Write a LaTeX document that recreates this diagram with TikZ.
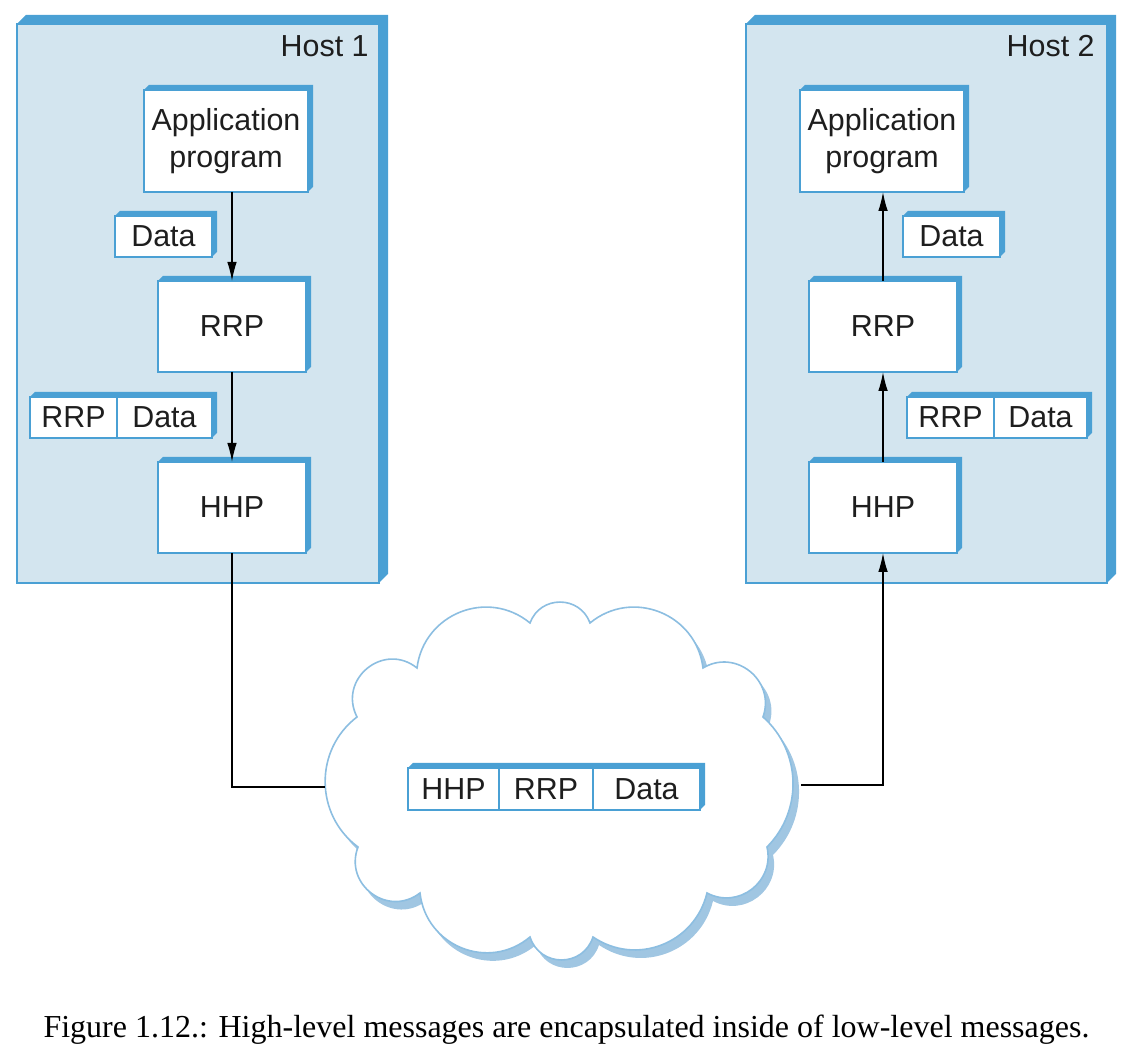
\documentclass[tikz,border=0pt]{standalone}
\usepackage{fontspec}
\setmainfont{Liberation Serif}
\setsansfont{Liberation Sans}
\usetikzlibrary{positioning, arrows.meta}

\definecolor{hostedge}{RGB}{74,160,212}
\definecolor{hostfill}{RGB}{211,229,239}
\definecolor{cloudedge}{RGB}{140,190,225}
\definecolor{cloudshade}{RGB}{160,198,226}
\definecolor{inkdark}{RGB}{30,30,30}

% 3d edge on top and right, from node #2 to node #3
\newcommand{\bevel}[3][5]{\fill[hostedge] (#2.north west) -- ++(#1,#1)
  -- ([shift={(#1,#1)}]#3.north east) -- ([shift={(#1,#1)}]#3.south east)
  -- (#3.south east) -- (#3.north east) -- cycle;}

\newcommand{\netcloud}{(530,435) to[out=70,in=110,looseness=1.27] (590,435)
  to[out=39.5,in=97,looseness=1.15] (703,390)
  to[out=31,in=70.6,looseness=1.27] (763,341)
  to[out=-41.6,in=45.2,looseness=1.01] (767,211)
  to[out=-77,in=-28,looseness=1.2] (707,165)
  to[out=-103.6,in=-34.2,looseness=1.09] (593,121)
  to[out=-107.8,in=-72.2,looseness=1.31] (530,121)
  to[out=-140,in=-83.6,looseness=1.16] (420,165)
  to[out=-142.4,in=-110.8,looseness=1.34] (358,211)
  to[out=143.5,in=217.3,looseness=1.06] (357,341)
  to[out=117.1,in=141.3,looseness=1.41] (417,390)
  to[out=82.9,in=140.5,looseness=1.15] (530,435) -- cycle}

\begin{document}
\begin{tikzpicture}[x=0.5pt, y=0.5pt,
  lbl/.style={font=\sffamily\fontsize{15.2}{18.2}\selectfont, text=inkdark},
  host/.style={draw=hostedge, fill=hostfill, line width=0.9pt, outer sep=0pt,
    inner sep=0pt, minimum height=279.5pt},
  blok/.style={lbl, draw=hostedge, fill=white, line width=0.9pt, outer sep=0pt,
    inner sep=0pt, align=center},
  cell/.style={blok, minimum height=20.5pt},
  wire/.style={line width=0.7pt, black},
  flow/.style={wire, -{Latex[length=9.5pt,width=4.8pt]}}]
\useasboundingbox (0,0) rectangle (1136,1058);

% hosts
\node[host, minimum width=181pt] (host1) at (198,754.5) {};
\bevel[9]{host1}{host1}
\node[host, minimum width=180.5pt] (host2) at (926.5,754.5) {};
\bevel[9]{host2}{host2}
\node[lbl, anchor=base east, inner sep=0pt] (h1lab) at (369,1001) {Host 1};
\node[lbl, anchor=base east, inner sep=0pt] (h2lab) at (1095,1001) {Host 2};

% host 1
\node[blok, minimum width=82pt, minimum height=51pt] (app1) at (226,917) {Application\\program};
\bevel{app1}{app1}
\node[blok, minimum width=48.5pt, minimum height=20.5pt] (data1) at (163.5,821.5) {Data};
\bevel{data1}{data1}
\node[blok, minimum width=74pt, minimum height=45.5pt] (rrp1) at (232,731.5) {RRP};
\bevel{rrp1}{rrp1}
\node[cell, minimum width=43.5pt] (rh1) at (73.5,640.5) {RRP};
\node[cell, minimum width=47.5pt, right=0pt of rh1] (rd1) {Data};
\bevel{rh1}{rd1}
\node[blok, minimum width=74pt, minimum height=45.5pt] (hhp1) at (232,550.5) {HHP};
\bevel{hhp1}{hhp1}

% host 2
\node[blok, minimum width=82pt, minimum height=51pt] (app2) at (882,917) {Application\\program};
\bevel{app2}{app2}
\node[blok, minimum width=48.5pt, minimum height=20.5pt] (data2) at (951.5,821.5) {Data};
\bevel{data2}{data2}
\node[blok, minimum width=74pt, minimum height=45.5pt] (rrp2) at (883,731.5) {RRP};
\bevel{rrp2}{rrp2}
\node[cell, minimum width=43.5pt] (rh2) at (950.5,640.5) {RRP};
\node[cell, minimum width=46.5pt, right=0pt of rh2] (rd2) {Data};
\bevel{rh2}{rd2}
\node[blok, minimum width=74pt, minimum height=45.5pt] (hhp2) at (883,550.5) {HHP};
\bevel{hhp2}{hhp2}

\draw[flow] (rrp1.north |- app1.south) -- (rrp1.north);
\draw[flow] (rrp1.south) -- (hhp1.north);
\draw[flow] (rrp2.north) -- (rrp2.north |- app2.south);
\draw[flow] (hhp2.north) -- (rrp2.south);

% network
\fill[cloudshade, shift={(6,-8)}] \netcloud;
\draw[cloudedge, fill=white, line width=0.8pt] \netcloud;

\node[cell, minimum width=45.5pt, minimum height=21pt] (ph) at (453.5,269) {HHP};
\node[cell, minimum width=47pt, minimum height=21pt, right=0pt of ph] (pr) {RRP};
\node[cell, minimum width=53.5pt, minimum height=21pt, right=0pt of pr] (pd) {Data};
\bevel{ph}{pd}

\coordinate (cl) at (325,271);
\coordinate (cr) at (801,273);
\draw[wire] (hhp1.south) |- (cl);
\draw[flow] (cr) -| (hhp2.south);

\node[font=\fontsize{16}{19}\selectfont, anchor=base] (cap) at (566.5,20)
  {Figure 1.12.: High-level messages are encapsulated inside of low-level messages.};
\end{tikzpicture}
\end{document}
